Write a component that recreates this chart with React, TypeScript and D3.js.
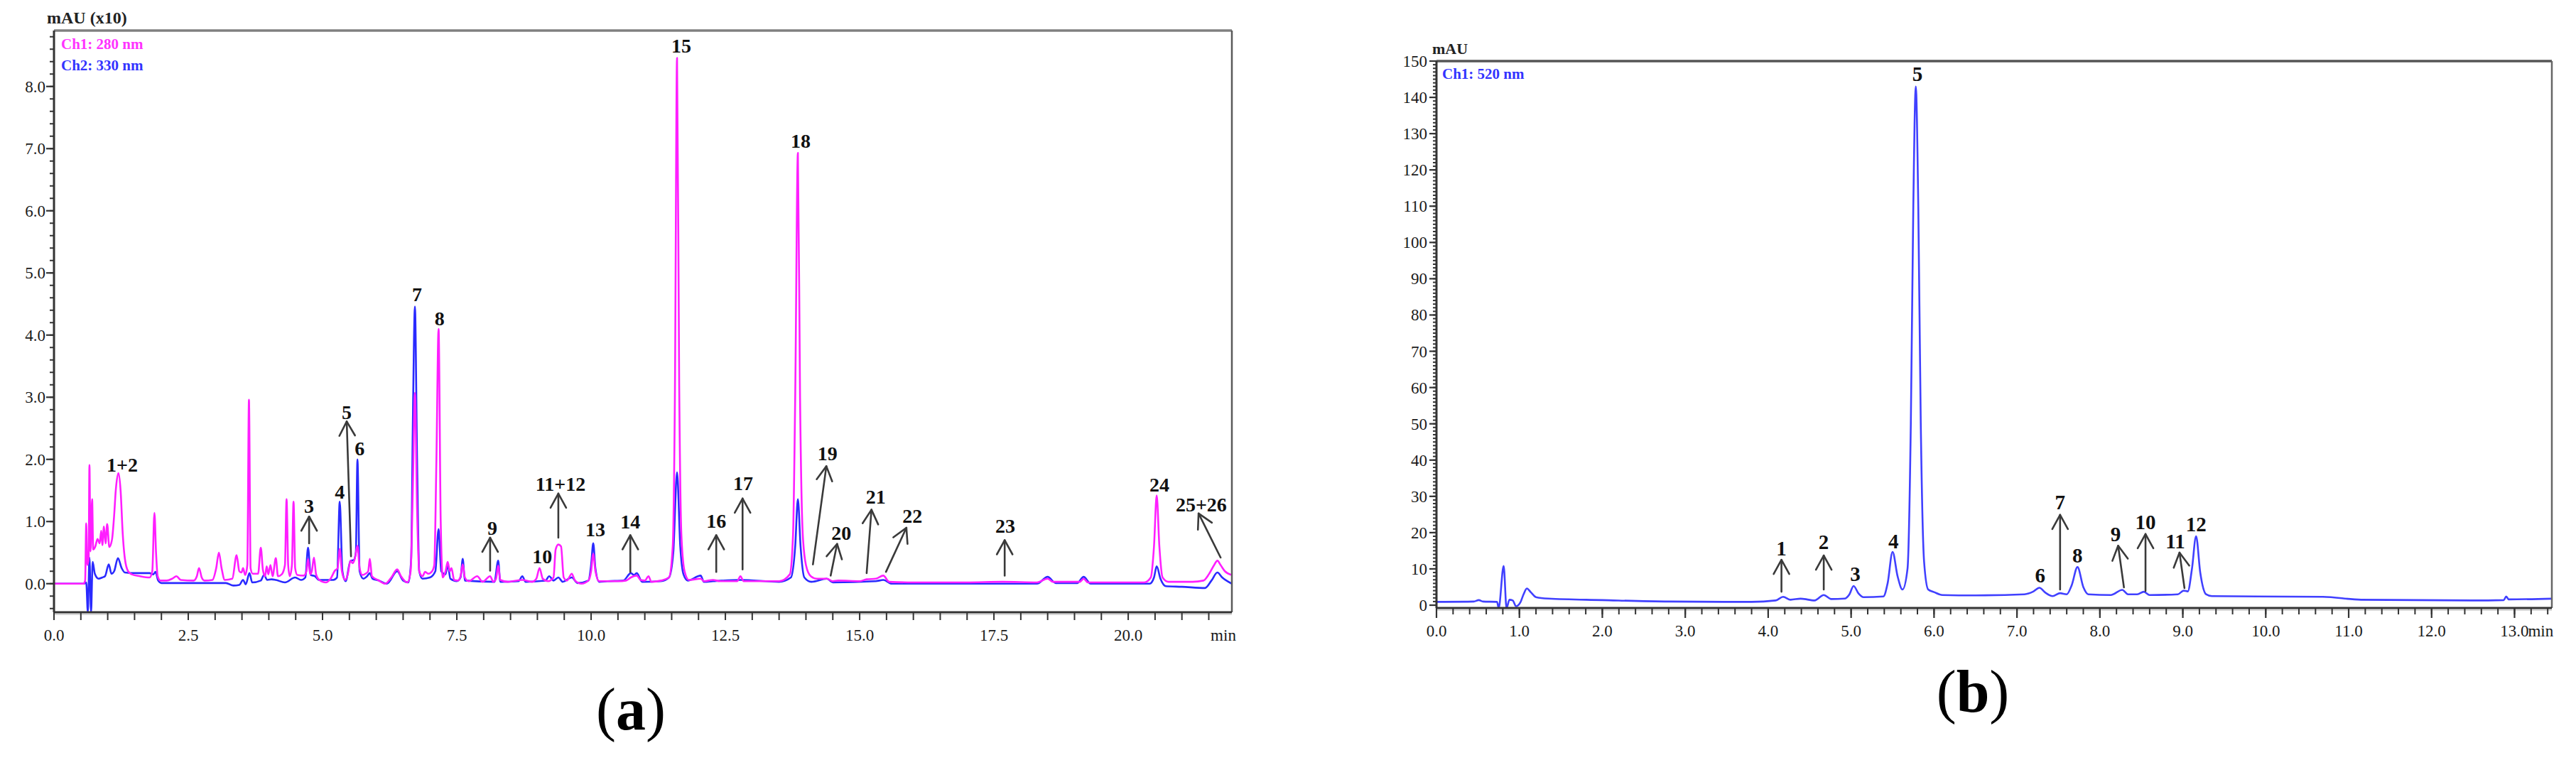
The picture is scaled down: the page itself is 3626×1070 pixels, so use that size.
import React from 'react';
import * as d3 from 'd3';

// ---------------- Panel (a) data: retention time (min), absorbance (mAU x10)
const ch1Trace: [number, number][] = [
  [0, 0.0], [0.55, 0.0], [0.58, 0.05], [0.6, 0.97], [0.62, 0.3], [0.645, 0.4], [0.66, 1.91], [0.68, 0.52],
  [0.71, 1.36], [0.73, 0.55], [0.77, 0.6], [0.81, 0.72], [0.85, 0.65], [0.88, 0.85], [0.9, 0.62], [0.93, 0.92],
  [0.96, 0.65], [0.99, 0.96], [1.03, 0.59], [1.08, 0.71], [1.12, 1.1], [1.15, 1.5], [1.2, 1.78], [1.24, 1.5],
  [1.28, 0.8], [1.32, 0.4], [1.38, 0.2], [1.45, 0.15], [1.6, 0.12], [1.78, 0.1], [1.83, 0.2], [1.87, 1.14],
  [1.9, 0.5], [1.93, 0.12], [1.98, 0.05], [2.1, 0.05], [2.2, 0.08], [2.28, 0.12], [2.36, 0.06], [2.6, 0.05],
  [2.66, 0.12], [2.7, 0.25], [2.75, 0.1], [2.8, 0.05], [2.95, 0.06], [3.02, 0.25], [3.07, 0.5], [3.12, 0.25],
  [3.18, 0.06], [3.32, 0.08], [3.4, 0.46], [3.45, 0.2], [3.49, 0.18], [3.52, 0.25], [3.56, 0.14], [3.6, 0.3],
  [3.63, 2.96], [3.66, 0.25], [3.7, 0.16], [3.8, 0.16], [3.85, 0.58], [3.89, 0.22], [3.93, 0.12], [3.96, 0.28],
  [3.99, 0.15], [4.03, 0.3], [4.07, 0.12], [4.13, 0.41], [4.17, 0.12], [4.24, 0.15], [4.3, 0.3], [4.33, 1.36],
  [4.36, 0.3], [4.39, 0.12], [4.43, 0.3], [4.46, 1.32], [4.49, 0.25], [4.53, 0.14], [4.65, 0.13], [4.7, 0.2],
  [4.73, 0.4], [4.77, 0.15], [4.8, 0.2], [4.84, 0.42], [4.88, 0.15], [4.94, 0.06], [5.06, 0.02], [5.15, 0.08],
  [5.23, 0.21], [5.28, 0.25], [5.32, 0.56], [5.36, 0.2], [5.42, 0.06], [5.47, 0.15], [5.52, 0.37], [5.56, 0.33],
  [5.6, 0.4], [5.65, 0.61], [5.69, 0.25], [5.74, 0.14], [5.8, 0.16], [5.85, 0.2], [5.88, 0.4], [5.92, 0.12],
  [6.03, 0.06], [6.17, 0.0], [6.28, 0.1], [6.39, 0.23], [6.46, 0.12], [6.58, 0.02], [6.64, 0.2], [6.68, 1.5],
  [6.72, 3.07], [6.76, 1.2], [6.8, 0.2], [6.86, 0.12], [6.91, 0.19], [6.97, 0.16], [7.04, 0.2], [7.08, 0.3],
  [7.12, 2.0], [7.16, 4.1], [7.2, 1.0], [7.24, 0.1], [7.29, 0.2], [7.33, 0.35], [7.37, 0.2], [7.4, 0.25],
  [7.45, 0.06], [7.52, 0.05], [7.57, 0.12], [7.61, 0.31], [7.65, 0.1], [7.72, 0.04], [7.88, 0.12], [7.98, 0.03],
  [8.12, 0.12], [8.18, 0.03], [8.23, 0.08], [8.27, 0.29], [8.31, 0.06], [8.45, 0.03], [8.72, 0.06], [8.9, 0.03],
  [8.98, 0.08], [9.04, 0.25], [9.1, 0.08], [9.2, 0.04], [9.3, 0.1], [9.34, 0.55], [9.39, 0.63], [9.44, 0.6],
  [9.49, 0.1], [9.55, 0.05], [9.64, 0.16], [9.7, 0.05], [9.82, 0.0], [9.95, 0.05], [10.0, 0.2], [10.04, 0.48],
  [10.08, 0.2], [10.15, 0.04], [10.5, 0.04], [10.65, 0.05], [10.74, 0.1], [10.85, 0.13], [10.92, 0.06],
  [11.0, 0.05], [11.07, 0.12], [11.12, 0.03], [11.3, 0.05], [11.45, 0.1], [11.52, 0.6], [11.56, 3.0],
  [11.6, 8.46], [11.64, 3.2], [11.68, 0.8], [11.74, 0.2], [11.82, 0.06], [12.04, 0.08], [12.1, 0.04],
  [12.27, 0.06], [12.4, 0.04], [12.72, 0.04], [12.78, 0.12], [12.84, 0.04], [13.42, 0.04], [13.5, 0.04],
  [13.7, 0.15], [13.76, 0.8], [13.8, 3.0], [13.85, 6.93], [13.89, 3.0], [13.94, 0.8], [14.0, 0.3], [14.09, 0.12],
  [14.2, 0.08], [14.39, 0.08], [14.5, 0.04], [14.6, 0.05], [15.0, 0.04], [15.13, 0.07], [15.3, 0.08],
  [15.44, 0.13], [15.55, 0.03], [16.0, 0.02], [17.0, 0.02], [17.66, 0.03], [18.3, 0.02], [18.5, 0.08],
  [18.6, 0.03], [19.1, 0.03], [19.17, 0.08], [19.25, 0.02], [20.3, 0.02], [20.42, 0.1], [20.48, 0.6],
  [20.53, 1.42], [20.58, 0.6], [20.64, 0.1], [20.75, 0.03], [21.2, 0.03], [21.4, 0.05], [21.5, 0.15],
  [21.6, 0.3], [21.66, 0.37], [21.72, 0.3], [21.8, 0.2], [21.93, 0.14],
];

const ch2Trace: [number, number][] = [
  [0, 0.0], [0.56, 0.0], [0.6, 0.02], [0.63, -0.46], [0.66, 0.42], [0.69, -0.46], [0.72, 0.35], [0.76, 0.16],
  [0.83, 0.08], [0.9, 0.1], [0.95, 0.12], [1.02, 0.31], [1.07, 0.16], [1.12, 0.2], [1.19, 0.41], [1.26, 0.25],
  [1.32, 0.18], [1.5, 0.17], [1.78, 0.17], [1.85, 0.15], [1.89, 0.19], [1.94, 0.05], [2.0, 0.01], [2.5, 0.01],
  [3.2, 0.01], [3.34, -0.03], [3.45, -0.02], [3.52, 0.06], [3.57, -0.01], [3.64, 0.17], [3.69, 0.02],
  [3.85, 0.05], [3.91, 0.14], [3.97, 0.06], [4.05, 0.07], [4.13, 0.06], [4.3, 0.02], [4.49, 0.1], [4.6, 0.06],
  [4.68, 0.1], [4.73, 0.58], [4.78, 0.14], [4.86, 0.12], [4.93, 0.06], [5.2, 0.06], [5.27, 0.1], [5.32, 1.32],
  [5.37, 0.2], [5.43, 0.04], [5.52, 0.37], [5.58, 0.38], [5.62, 0.5], [5.65, 2.0], [5.69, 0.2], [5.76, 0.08],
  [5.83, 0.12], [5.88, 0.17], [5.93, 0.08], [6.05, 0.05], [6.2, 0.0], [6.39, 0.2], [6.5, 0.05], [6.6, 0.02],
  [6.65, 0.4], [6.68, 2.5], [6.72, 4.46], [6.76, 2.0], [6.8, 0.2], [6.86, 0.08], [7.0, 0.1], [7.1, 0.2],
  [7.16, 0.88], [7.21, 0.2], [7.29, 0.15], [7.33, 0.31], [7.38, 0.08], [7.5, 0.04], [7.57, 0.1], [7.61, 0.4],
  [7.65, 0.05], [8.2, 0.03], [8.27, 0.37], [8.31, 0.03], [8.65, 0.04], [8.72, 0.12], [8.78, 0.03], [9.15, 0.05],
  [9.22, 0.12], [9.3, 0.05], [9.39, 0.1], [9.47, 0.03], [9.64, 0.1], [9.75, 0.01], [9.95, 0.05], [10.0, 0.3],
  [10.04, 0.65], [10.08, 0.25], [10.15, 0.03], [10.3, 0.04], [10.6, 0.05], [10.74, 0.17], [10.8, 0.14],
  [10.85, 0.17], [10.95, 0.03], [11.3, 0.04], [11.45, 0.1], [11.53, 0.5], [11.6, 1.79], [11.66, 0.6],
  [11.72, 0.15], [11.8, 0.05], [12.04, 0.13], [12.1, 0.03], [12.27, 0.04], [12.78, 0.06], [13.5, 0.03],
  [13.72, 0.1], [13.8, 0.6], [13.85, 1.36], [13.9, 0.6], [13.97, 0.1], [14.1, 0.03], [14.39, 0.08], [14.5, 0.02],
  [15.3, 0.04], [15.44, 0.06], [15.6, 0.0], [18.3, 0.0], [18.5, 0.11], [18.65, 0.01], [19.05, 0.01],
  [19.17, 0.11], [19.3, 0.0], [20.4, 0.0], [20.48, 0.1], [20.53, 0.28], [20.6, 0.08], [20.7, -0.04],
  [21.0, -0.05], [21.43, -0.07], [21.55, 0.05], [21.66, 0.18], [21.75, 0.1], [21.93, 0.0],
];

const aYTicks = [0, 1, 2, 3, 4, 5, 6, 7, 8];
const aXTicks = [0, 2.5, 5, 7.5, 10, 12.5, 15, 17.5, 20];

const aLabels = [
  { text: '1+2', t: 1.27, v: 1.91 }, { text: '3', t: 4.75, v: 1.25 }, { text: '4', t: 5.32, v: 1.48 },
  { text: '5', t: 5.45, v: 2.76 }, { text: '6', t: 5.69, v: 2.17 }, { text: '7', t: 6.76, v: 4.65 },
  { text: '8', t: 7.18, v: 4.27 }, { text: '9', t: 8.16, v: 0.9 }, { text: '10', t: 9.09, v: 0.44 },
  { text: '11+12', t: 9.43, v: 1.6 }, { text: '13', t: 10.08, v: 0.87 }, { text: '14', t: 10.73, v: 1.0 },
  { text: '15', t: 11.68, v: 8.65 }, { text: '16', t: 12.33, v: 1.01 }, { text: '17', t: 12.83, v: 1.62 },
  { text: '18', t: 13.9, v: 7.12 }, { text: '19', t: 14.4, v: 2.1 }, { text: '20', t: 14.66, v: 0.82 },
  { text: '21', t: 15.3, v: 1.4 }, { text: '22', t: 15.98, v: 1.09 }, { text: '23', t: 17.71, v: 0.93 },
  { text: '24', t: 20.58, v: 1.59 }, { text: '25+26', t: 21.36, v: 1.27 },
];

const aArrows = [
  { t1: 4.75, v1: 0.65, t2: 4.75, v2: 1.08 }, { t1: 5.53, v1: 0.44, t2: 5.45, v2: 2.61 },
  { t1: 8.12, v1: 0.21, t2: 8.12, v2: 0.74 }, { t1: 9.39, v1: 0.74, t2: 9.39, v2: 1.45 },
  { t1: 10.73, v1: 0.19, t2: 10.73, v2: 0.78 }, { t1: 12.33, v1: 0.19, t2: 12.33, v2: 0.78 },
  { t1: 12.82, v1: 0.23, t2: 12.82, v2: 1.37 }, { t1: 14.13, v1: 0.31, t2: 14.38, v2: 1.89 },
  { t1: 14.46, v1: 0.13, t2: 14.58, v2: 0.64 }, { t1: 15.13, v1: 0.17, t2: 15.22, v2: 1.19 },
  { t1: 15.49, v1: 0.19, t2: 15.87, v2: 0.9 }, { t1: 17.7, v1: 0.13, t2: 17.7, v2: 0.7 },
  { t1: 21.72, v1: 0.42, t2: 21.31, v2: 1.13 },
];

// ---------------- Panel (b) data: retention time (min), absorbance (mAU)
const ch520Trace: [number, number][] = [
  [0, 0.9], [0.45, 1.0], [0.51, 1.4], [0.56, 1.0], [0.73, 0.9], [0.75, -0.8], [0.81, 10.8], [0.845, -0.8],
  [0.88, 1.5], [0.92, 1.3], [0.96, -0.3], [1.01, 0.7], [1.05, 3.0], [1.09, 4.6], [1.14, 3.5], [1.2, 2.2],
  [1.35, 1.8], [2.0, 1.4], [2.8, 1.0], [3.8, 0.9], [4.09, 1.3], [4.18, 2.3], [4.27, 1.5], [4.39, 1.8],
  [4.56, 1.3], [4.67, 2.8], [4.76, 1.7], [4.92, 1.8], [4.98, 3.0], [5.03, 5.3], [5.09, 3.2], [5.15, 2.2],
  [5.39, 2.4], [5.44, 6.0], [5.5, 14.7], [5.56, 8.0], [5.62, 4.3], [5.68, 10], [5.72, 50], [5.75, 110],
  [5.78, 143], [5.81, 110], [5.84, 50], [5.88, 12], [5.93, 4.3], [6.0, 3.6], [6.1, 2.8], [6.5, 2.7],
  [7.09, 3.0], [7.2, 3.8], [7.27, 4.8], [7.34, 3.5], [7.43, 2.5], [7.52, 3.3], [7.6, 3.0], [7.66, 5.5],
  [7.73, 10.5], [7.8, 5.0], [7.86, 3.0], [8.13, 2.8], [8.27, 4.2], [8.34, 3.0], [8.45, 3.0], [8.53, 3.7],
  [8.6, 2.8], [8.94, 3.0], [9.01, 4.0], [9.06, 3.8], [9.11, 10], [9.16, 19.0], [9.21, 9], [9.28, 3.0],
  [9.35, 2.5], [10.69, 2.3], [11.15, 1.5], [12.49, 1.3], [12.87, 1.4], [12.9, 2.4], [12.93, 1.6], [13.45, 1.8],
];

const bYTicks = [0, 10, 20, 30, 40, 50, 60, 70, 80, 90, 100, 110, 120, 130, 140, 150];
const bXTicks = [0, 1, 2, 3, 4, 5, 6, 7, 8, 9, 10, 11, 12, 13];

const bLabels = [
  { text: '1', t: 4.16, v: 15.7 }, { text: '2', t: 4.67, v: 17.4 }, { text: '3', t: 5.05, v: 8.6 },
  { text: '4', t: 5.51, v: 17.6 }, { text: '5', t: 5.8, v: 146.5 }, { text: '6', t: 7.28, v: 8.2 },
  { text: '7', t: 7.52, v: 28.4 }, { text: '8', t: 7.73, v: 13.7 }, { text: '9', t: 8.19, v: 19.6 },
  { text: '10', t: 8.55, v: 22.9 }, { text: '11', t: 8.91, v: 17.6 }, { text: '12', t: 9.16, v: 22.3 },
];

const bArrows = [
  { t1: 4.16, v1: 3.7, t2: 4.16, v2: 12.5 }, { t1: 4.67, v1: 4.3, t2: 4.67, v2: 13.7 },
  { t1: 7.52, v1: 4.3, t2: 7.52, v2: 24.9 }, { t1: 8.29, v1: 4.9, t2: 8.22, v2: 16.4 },
  { t1: 8.55, v1: 3.9, t2: 8.55, v2: 19.6 }, { t1: 9.02, v1: 4.7, t2: 8.96, v2: 14.5 },
];

// ---------------- layout
const FONT = "'Liberation Serif','Times New Roman',serif";
const A = { left: 76, right: 1734, top: 43, bottom: 862 };
const B = { left: 2022, right: 3592, top: 86, bottom: 856 };

const xA = d3.scaleLinear().domain([0, 21.93]).range([A.left, A.right]);
const yA = d3.scaleLinear().domain([-0.46, 8.9]).range([A.bottom, A.top]);
const xB = d3.scaleLinear().domain([0, 13.45]).range([B.left, B.right]);
const yB = d3.scaleLinear().domain([-0.78, 150]).range([B.bottom, B.top]);

function Arrow({ x1, y1, x2, y2 }: { x1: number; y1: number; x2: number; y2: number }) {
  const dx = x2 - x1, dy = y2 - y1;
  const len = Math.hypot(dx, dy);
  const ux = dx / len, uy = dy / len;
  const nx = -uy, ny = ux;
  const L = 20, Wd = 11;
  const bx = x2 - ux * L, by = y2 - uy * L;
  return (
    <g stroke="#3a3a3a" strokeWidth={2.6} fill="none" strokeLinecap="round" strokeLinejoin="round">
      <line x1={x1} y1={y1} x2={x2} y2={y2} />
      <polyline points={`${bx + nx * Wd},${by + ny * Wd} ${x2},${y2} ${bx - nx * Wd},${by - ny * Wd}`} />
    </g>
  );
}

export default function App() {
  const lineA = d3.line<[number, number]>().x(d => xA(d[0])).y(d => yA(d[1])).curve(d3.curveMonotoneX);
  const lineB = d3.line<[number, number]>().x(d => xB(d[0])).y(d => yB(d[1])).curve(d3.curveMonotoneX);

  const aMinorY = d3.range(-0.4, 8.81, 0.2);
  const aMinorX = d3.range(0, 21.91, 0.5);
  const bMinorY = d3.range(0, 150.1, 1);
  const bMinorX = d3.range(0, 13.41, 0.2);

  const lblA = 28, lblB = 29;

  return (
    <svg width={3626} height={1070} viewBox="0 0 3626 1070"
      style={{ position: 'absolute', left: 0, top: 0, background: '#fff', display: 'block' }}>
      <defs>
        <clipPath id="clipA"><rect x={A.left} y={A.top} width={A.right - A.left} height={A.bottom - A.top} /></clipPath>
        <clipPath id="clipB"><rect x={B.left} y={B.top} width={B.right - B.left} height={B.bottom - B.top} /></clipPath>
      </defs>
      <rect x={0} y={0} width={3626} height={1070} fill="#fff" />

      {/* ================= Panel (a) ================= */}
      <g clipPath="url(#clipA)">
        <path d={lineA(ch2Trace) || ''} fill="none" stroke="#2a2aff" strokeWidth={2.6} strokeLinejoin="round" />
        <path d={lineA(ch1Trace) || ''} fill="none" stroke="#ff1eff" strokeWidth={2.6} strokeLinejoin="round" />
      </g>
      {/* frame */}
      <line x1={A.left} y1={A.top} x2={A.right} y2={A.top} stroke="#808080" strokeWidth={3.5} />
      <line x1={A.right} y1={A.top} x2={A.right} y2={A.bottom} stroke="#5a5a5a" strokeWidth={2.5} />
      <line x1={A.left} y1={A.bottom + 3} x2={A.right} y2={A.bottom + 3} stroke="#d8d8d8" strokeWidth={2} />
      <line x1={A.left} y1={A.bottom} x2={A.right} y2={A.bottom} stroke="#333" strokeWidth={3} />
      <line x1={A.left} y1={A.top} x2={A.left} y2={A.bottom} stroke="#333" strokeWidth={3} />
      {/* y ticks */}
      {aMinorY.map((v, i) => (
        <line key={'amy' + i} x1={A.left - 6} x2={A.left} y1={yA(v)} y2={yA(v)} stroke="#333" strokeWidth={2} />
      ))}
      {aYTicks.map(v => (
        <g key={'ay' + v}>
          <line x1={A.left - 11} x2={A.left} y1={yA(v)} y2={yA(v)} stroke="#333" strokeWidth={2.2} />
          <text x={A.left - 12} y={yA(v) + 8} fontSize={23} fontFamily={FONT} textAnchor="end" fill="#1a1a1a">{v.toFixed(1)}</text>
        </g>
      ))}
      {/* x ticks */}
      {aMinorX.map((t, i) => (
        <line key={'amx' + i} x1={xA(t)} x2={xA(t)} y1={A.bottom} y2={A.bottom + 11} stroke="#333" strokeWidth={2} />
      ))}
      {aXTicks.map(t => (
        <text key={'ax' + t} x={xA(t)} y={A.bottom + 40} fontSize={23} fontFamily={FONT} textAnchor="middle" fill="#1a1a1a">{t.toFixed(1)}</text>
      ))}
      <text x={A.right - 12} y={A.bottom + 40} fontSize={23} fontFamily={FONT} textAnchor="middle" fill="#1a1a1a">min</text>
      {/* titles / legend */}
      <text x={66} y={33} fontSize={24} fontWeight="bold" fontFamily={FONT} fill="#222">mAU (x10)</text>
      <text x={86} y={69} fontSize={21} fontWeight="bold" fontFamily={FONT} fill="#ff33ff">Ch1: 280 nm</text>
      <text x={86} y={99} fontSize={21} fontWeight="bold" fontFamily={FONT} fill="#3333ff">Ch2: 330 nm</text>
      {/* arrows & labels */}
      {aArrows.map((a, i) => (
        <Arrow key={'aa' + i} x1={xA(a.t1)} y1={yA(a.v1)} x2={xA(a.t2)} y2={yA(a.v2)} />
      ))}
      {aLabels.map((l, i) => (
        <text key={'al' + i} x={xA(l.t)} y={yA(l.v) + lblA * 0.34} fontSize={lblA} fontWeight="bold"
          fontFamily={FONT} textAnchor="middle" fill="#111">{l.text}</text>
      ))}
      <text x={888} y={1027} fontSize={84} fontFamily={FONT} textAnchor="middle" fill="#000">
        (<tspan fontWeight="bold">a</tspan>)
      </text>

      {/* ================= Panel (b) ================= */}
      <g clipPath="url(#clipB)">
        <path d={lineB(ch520Trace) || ''} fill="none" stroke="#4040ff" strokeWidth={2.6} strokeLinejoin="round" />
      </g>
      <line x1={B.left} y1={B.top} x2={B.right} y2={B.top} stroke="#555" strokeWidth={3.5} />
      <line x1={B.right} y1={B.top} x2={B.right} y2={B.bottom} stroke="#666" strokeWidth={2.5} />
      <line x1={B.left} y1={B.bottom + 3} x2={B.right} y2={B.bottom + 3} stroke="#d8d8d8" strokeWidth={2} />
      <line x1={B.left} y1={B.bottom} x2={B.right} y2={B.bottom} stroke="#333" strokeWidth={3} />
      <line x1={B.left} y1={B.top} x2={B.left} y2={B.bottom} stroke="#333" strokeWidth={3} />
      {bMinorY.map((v, i) => (
        <line key={'bmy' + i} x1={B.left - 5} x2={B.left} y1={yB(v)} y2={yB(v)} stroke="#333" strokeWidth={2} />
      ))}
      {bYTicks.map(v => (
        <g key={'by' + v}>
          <line x1={B.left - 10} x2={B.left} y1={yB(v)} y2={yB(v)} stroke="#333" strokeWidth={2.2} />
          <text x={B.left - 13} y={yB(v) + 8} fontSize={23} fontFamily={FONT} textAnchor="end" fill="#1a1a1a">{v}</text>
        </g>
      ))}
      {bMinorX.map((t, i) => (
        <line key={'bmx' + i} x1={xB(t)} x2={xB(t)} y1={B.bottom} y2={B.bottom + 9} stroke="#333" strokeWidth={2} />
      ))}
      {bXTicks.map(t => (
        <g key={'bx' + t}>
          <line x1={xB(t)} x2={xB(t)} y1={B.bottom} y2={B.bottom + 14} stroke="#333" strokeWidth={2.2} />
          <text x={xB(t)} y={B.bottom + 40} fontSize={23} fontFamily={FONT} textAnchor="middle" fill="#1a1a1a">{t.toFixed(1)}</text>
        </g>
      ))}
      <text x={xB(13) + 19} y={B.bottom + 40} fontSize={23} fontFamily={FONT} textAnchor="start" fill="#1a1a1a">min</text>
      <text x={2016} y={76} fontSize={22} fontWeight="bold" fontFamily={FONT} fill="#222">mAU</text>
      <text x={2030} y={111} fontSize={21} fontWeight="bold" fontFamily={FONT} fill="#3333ff">Ch1: 520 nm</text>
      {bArrows.map((a, i) => (
        <Arrow key={'ba' + i} x1={xB(a.t1)} y1={yB(a.v1)} x2={xB(a.t2)} y2={yB(a.v2)} />
      ))}
      {bLabels.map((l, i) => (
        <text key={'bl' + i} x={xB(l.t)} y={yB(l.v) + lblB * 0.34} fontSize={lblB} fontWeight="bold"
          fontFamily={FONT} textAnchor="middle" fill="#111">{l.text}</text>
      ))}
      <text x={2777} y={1002} fontSize={84} fontFamily={FONT} textAnchor="middle" fill="#000">
        (<tspan fontWeight="bold">b</tspan>)
      </text>
    </svg>
  );
}
